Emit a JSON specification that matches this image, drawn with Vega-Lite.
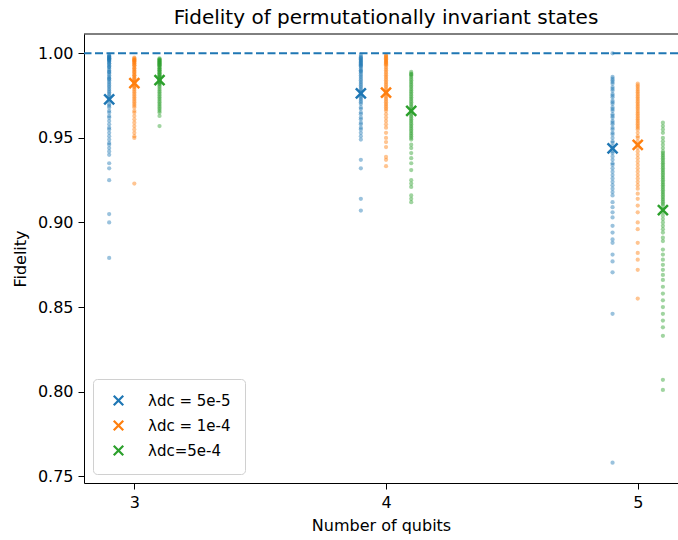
{
  "$schema": "https://vega.github.io/schema/vega-lite/v6.json",
  "width": 594,
  "height": 449,
  "autosize": {"type": "none"},
  "padding": {"left": 84, "top": 34, "right": 0, "bottom": 57},
  "title": {"text": "Fidelity of permutationally invariant states", "fontSize": 20, "font": "DejaVu Sans", "fontWeight": "normal", "color": "#000000", "offset": 6, "anchor": "middle", "dx": 5},
  "datasets": {
    "pts": [
      {"x":2.9,"s":"5e-5","f":0.999},{"x":2.9,"s":"5e-5","f":0.9985},{"x":2.9,"s":"5e-5","f":0.998},{"x":2.9,"s":"5e-5","f":0.998},{"x":2.9,"s":"5e-5","f":0.9975},{"x":2.9,"s":"5e-5","f":0.997},{"x":2.9,"s":"5e-5","f":0.997},{"x":2.9,"s":"5e-5","f":0.9965},{"x":2.9,"s":"5e-5","f":0.996},{"x":2.9,"s":"5e-5","f":0.996},{"x":2.9,"s":"5e-5","f":0.9955},{"x":2.9,"s":"5e-5","f":0.995},{"x":2.9,"s":"5e-5","f":0.994},{"x":2.9,"s":"5e-5","f":0.994},{"x":2.9,"s":"5e-5","f":0.993},{"x":2.9,"s":"5e-5","f":0.992},{"x":2.9,"s":"5e-5","f":0.992},{"x":2.9,"s":"5e-5","f":0.991},{"x":2.9,"s":"5e-5","f":0.990},{"x":2.9,"s":"5e-5","f":0.989},{"x":2.9,"s":"5e-5","f":0.989},{"x":2.9,"s":"5e-5","f":0.988},{"x":2.9,"s":"5e-5","f":0.987},{"x":2.9,"s":"5e-5","f":0.986},{"x":2.9,"s":"5e-5","f":0.985},{"x":2.9,"s":"5e-5","f":0.985},{"x":2.9,"s":"5e-5","f":0.984},{"x":2.9,"s":"5e-5","f":0.983},{"x":2.9,"s":"5e-5","f":0.982},{"x":2.9,"s":"5e-5","f":0.981},{"x":2.9,"s":"5e-5","f":0.980},{"x":2.9,"s":"5e-5","f":0.979},{"x":2.9,"s":"5e-5","f":0.978},{"x":2.9,"s":"5e-5","f":0.977},{"x":2.9,"s":"5e-5","f":0.976},{"x":2.9,"s":"5e-5","f":0.975},{"x":2.9,"s":"5e-5","f":0.974},{"x":2.9,"s":"5e-5","f":0.973},{"x":2.9,"s":"5e-5","f":0.972},{"x":2.9,"s":"5e-5","f":0.970},{"x":2.9,"s":"5e-5","f":0.969},{"x":2.9,"s":"5e-5","f":0.968},{"x":2.9,"s":"5e-5","f":0.966},{"x":2.9,"s":"5e-5","f":0.965},{"x":2.9,"s":"5e-5","f":0.963},{"x":2.9,"s":"5e-5","f":0.962},{"x":2.9,"s":"5e-5","f":0.960},{"x":2.9,"s":"5e-5","f":0.958},{"x":2.9,"s":"5e-5","f":0.956},{"x":2.9,"s":"5e-5","f":0.955},{"x":2.9,"s":"5e-5","f":0.953},{"x":2.9,"s":"5e-5","f":0.951},{"x":2.9,"s":"5e-5","f":0.949},{"x":2.9,"s":"5e-5","f":0.947},{"x":2.9,"s":"5e-5","f":0.946},{"x":2.9,"s":"5e-5","f":0.944},{"x":2.9,"s":"5e-5","f":0.942},{"x":2.9,"s":"5e-5","f":0.940},{"x":2.9,"s":"5e-5","f":0.935},{"x":2.9,"s":"5e-5","f":0.932},{"x":2.9,"s":"5e-5","f":0.925},{"x":2.9,"s":"5e-5","f":0.905},{"x":2.9,"s":"5e-5","f":0.900},{"x":2.9,"s":"5e-5","f":0.879},
      {"x":3.0,"s":"1e-4","f":0.9975},{"x":3.0,"s":"1e-4","f":0.997},{"x":3.0,"s":"1e-4","f":0.9965},{"x":3.0,"s":"1e-4","f":0.996},{"x":3.0,"s":"1e-4","f":0.996},{"x":3.0,"s":"1e-4","f":0.9955},{"x":3.0,"s":"1e-4","f":0.995},{"x":3.0,"s":"1e-4","f":0.995},{"x":3.0,"s":"1e-4","f":0.994},{"x":3.0,"s":"1e-4","f":0.994},{"x":3.0,"s":"1e-4","f":0.993},{"x":3.0,"s":"1e-4","f":0.993},{"x":3.0,"s":"1e-4","f":0.992},{"x":3.0,"s":"1e-4","f":0.991},{"x":3.0,"s":"1e-4","f":0.991},{"x":3.0,"s":"1e-4","f":0.990},{"x":3.0,"s":"1e-4","f":0.989},{"x":3.0,"s":"1e-4","f":0.989},{"x":3.0,"s":"1e-4","f":0.988},{"x":3.0,"s":"1e-4","f":0.987},{"x":3.0,"s":"1e-4","f":0.987},{"x":3.0,"s":"1e-4","f":0.986},{"x":3.0,"s":"1e-4","f":0.985},{"x":3.0,"s":"1e-4","f":0.985},{"x":3.0,"s":"1e-4","f":0.984},{"x":3.0,"s":"1e-4","f":0.983},{"x":3.0,"s":"1e-4","f":0.983},{"x":3.0,"s":"1e-4","f":0.982},{"x":3.0,"s":"1e-4","f":0.981},{"x":3.0,"s":"1e-4","f":0.980},{"x":3.0,"s":"1e-4","f":0.980},{"x":3.0,"s":"1e-4","f":0.979},{"x":3.0,"s":"1e-4","f":0.978},{"x":3.0,"s":"1e-4","f":0.977},{"x":3.0,"s":"1e-4","f":0.976},{"x":3.0,"s":"1e-4","f":0.975},{"x":3.0,"s":"1e-4","f":0.974},{"x":3.0,"s":"1e-4","f":0.973},{"x":3.0,"s":"1e-4","f":0.972},{"x":3.0,"s":"1e-4","f":0.971},{"x":3.0,"s":"1e-4","f":0.970},{"x":3.0,"s":"1e-4","f":0.969},{"x":3.0,"s":"1e-4","f":0.968},{"x":3.0,"s":"1e-4","f":0.966},{"x":3.0,"s":"1e-4","f":0.965},{"x":3.0,"s":"1e-4","f":0.963},{"x":3.0,"s":"1e-4","f":0.961},{"x":3.0,"s":"1e-4","f":0.959},{"x":3.0,"s":"1e-4","f":0.957},{"x":3.0,"s":"1e-4","f":0.955},{"x":3.0,"s":"1e-4","f":0.953},{"x":3.0,"s":"1e-4","f":0.951},{"x":3.0,"s":"1e-4","f":0.950},{"x":3.0,"s":"1e-4","f":0.923},
      {"x":3.1,"s":"5e-4","f":0.997},{"x":3.1,"s":"5e-4","f":0.9965},{"x":3.1,"s":"5e-4","f":0.996},{"x":3.1,"s":"5e-4","f":0.996},{"x":3.1,"s":"5e-4","f":0.9955},{"x":3.1,"s":"5e-4","f":0.995},{"x":3.1,"s":"5e-4","f":0.995},{"x":3.1,"s":"5e-4","f":0.9945},{"x":3.1,"s":"5e-4","f":0.994},{"x":3.1,"s":"5e-4","f":0.994},{"x":3.1,"s":"5e-4","f":0.9935},{"x":3.1,"s":"5e-4","f":0.993},{"x":3.1,"s":"5e-4","f":0.993},{"x":3.1,"s":"5e-4","f":0.992},{"x":3.1,"s":"5e-4","f":0.992},{"x":3.1,"s":"5e-4","f":0.991},{"x":3.1,"s":"5e-4","f":0.991},{"x":3.1,"s":"5e-4","f":0.990},{"x":3.1,"s":"5e-4","f":0.990},{"x":3.1,"s":"5e-4","f":0.989},{"x":3.1,"s":"5e-4","f":0.989},{"x":3.1,"s":"5e-4","f":0.988},{"x":3.1,"s":"5e-4","f":0.988},{"x":3.1,"s":"5e-4","f":0.987},{"x":3.1,"s":"5e-4","f":0.987},{"x":3.1,"s":"5e-4","f":0.986},{"x":3.1,"s":"5e-4","f":0.986},{"x":3.1,"s":"5e-4","f":0.985},{"x":3.1,"s":"5e-4","f":0.985},{"x":3.1,"s":"5e-4","f":0.984},{"x":3.1,"s":"5e-4","f":0.984},{"x":3.1,"s":"5e-4","f":0.983},{"x":3.1,"s":"5e-4","f":0.983},{"x":3.1,"s":"5e-4","f":0.982},{"x":3.1,"s":"5e-4","f":0.982},{"x":3.1,"s":"5e-4","f":0.981},{"x":3.1,"s":"5e-4","f":0.980},{"x":3.1,"s":"5e-4","f":0.979},{"x":3.1,"s":"5e-4","f":0.978},{"x":3.1,"s":"5e-4","f":0.977},{"x":3.1,"s":"5e-4","f":0.976},{"x":3.1,"s":"5e-4","f":0.975},{"x":3.1,"s":"5e-4","f":0.974},{"x":3.1,"s":"5e-4","f":0.973},{"x":3.1,"s":"5e-4","f":0.972},{"x":3.1,"s":"5e-4","f":0.971},{"x":3.1,"s":"5e-4","f":0.970},{"x":3.1,"s":"5e-4","f":0.969},{"x":3.1,"s":"5e-4","f":0.968},{"x":3.1,"s":"5e-4","f":0.967},{"x":3.1,"s":"5e-4","f":0.966},{"x":3.1,"s":"5e-4","f":0.965},{"x":3.1,"s":"5e-4","f":0.963},{"x":3.1,"s":"5e-4","f":0.957},
      {"x":3.9,"s":"5e-5","f":0.999},{"x":3.9,"s":"5e-5","f":0.998},{"x":3.9,"s":"5e-5","f":0.9975},{"x":3.9,"s":"5e-5","f":0.997},{"x":3.9,"s":"5e-5","f":0.9965},{"x":3.9,"s":"5e-5","f":0.996},{"x":3.9,"s":"5e-5","f":0.9955},{"x":3.9,"s":"5e-5","f":0.995},{"x":3.9,"s":"5e-5","f":0.9945},{"x":3.9,"s":"5e-5","f":0.994},{"x":3.9,"s":"5e-5","f":0.9935},{"x":3.9,"s":"5e-5","f":0.993},{"x":3.9,"s":"5e-5","f":0.9925},{"x":3.9,"s":"5e-5","f":0.992},{"x":3.9,"s":"5e-5","f":0.991},{"x":3.9,"s":"5e-5","f":0.990},{"x":3.9,"s":"5e-5","f":0.9895},{"x":3.9,"s":"5e-5","f":0.989},{"x":3.9,"s":"5e-5","f":0.988},{"x":3.9,"s":"5e-5","f":0.987},{"x":3.9,"s":"5e-5","f":0.986},{"x":3.9,"s":"5e-5","f":0.985},{"x":3.9,"s":"5e-5","f":0.984},{"x":3.9,"s":"5e-5","f":0.983},{"x":3.9,"s":"5e-5","f":0.982},{"x":3.9,"s":"5e-5","f":0.981},{"x":3.9,"s":"5e-5","f":0.980},{"x":3.9,"s":"5e-5","f":0.979},{"x":3.9,"s":"5e-5","f":0.978},{"x":3.9,"s":"5e-5","f":0.977},{"x":3.9,"s":"5e-5","f":0.976},{"x":3.9,"s":"5e-5","f":0.975},{"x":3.9,"s":"5e-5","f":0.974},{"x":3.9,"s":"5e-5","f":0.973},{"x":3.9,"s":"5e-5","f":0.972},{"x":3.9,"s":"5e-5","f":0.971},{"x":3.9,"s":"5e-5","f":0.970},{"x":3.9,"s":"5e-5","f":0.968},{"x":3.9,"s":"5e-5","f":0.967},{"x":3.9,"s":"5e-5","f":0.965},{"x":3.9,"s":"5e-5","f":0.964},{"x":3.9,"s":"5e-5","f":0.962},{"x":3.9,"s":"5e-5","f":0.961},{"x":3.9,"s":"5e-5","f":0.959},{"x":3.9,"s":"5e-5","f":0.958},{"x":3.9,"s":"5e-5","f":0.956},{"x":3.9,"s":"5e-5","f":0.955},{"x":3.9,"s":"5e-5","f":0.953},{"x":3.9,"s":"5e-5","f":0.951},{"x":3.9,"s":"5e-5","f":0.949},{"x":3.9,"s":"5e-5","f":0.937},{"x":3.9,"s":"5e-5","f":0.932},{"x":3.9,"s":"5e-5","f":0.914},{"x":3.9,"s":"5e-5","f":0.907},
      {"x":4.0,"s":"1e-4","f":0.999},{"x":4.0,"s":"1e-4","f":0.9985},{"x":4.0,"s":"1e-4","f":0.998},{"x":4.0,"s":"1e-4","f":0.9975},{"x":4.0,"s":"1e-4","f":0.997},{"x":4.0,"s":"1e-4","f":0.9965},{"x":4.0,"s":"1e-4","f":0.996},{"x":4.0,"s":"1e-4","f":0.9955},{"x":4.0,"s":"1e-4","f":0.995},{"x":4.0,"s":"1e-4","f":0.9945},{"x":4.0,"s":"1e-4","f":0.994},{"x":4.0,"s":"1e-4","f":0.9935},{"x":4.0,"s":"1e-4","f":0.993},{"x":4.0,"s":"1e-4","f":0.992},{"x":4.0,"s":"1e-4","f":0.991},{"x":4.0,"s":"1e-4","f":0.990},{"x":4.0,"s":"1e-4","f":0.989},{"x":4.0,"s":"1e-4","f":0.988},{"x":4.0,"s":"1e-4","f":0.987},{"x":4.0,"s":"1e-4","f":0.986},{"x":4.0,"s":"1e-4","f":0.985},{"x":4.0,"s":"1e-4","f":0.984},{"x":4.0,"s":"1e-4","f":0.983},{"x":4.0,"s":"1e-4","f":0.982},{"x":4.0,"s":"1e-4","f":0.981},{"x":4.0,"s":"1e-4","f":0.980},{"x":4.0,"s":"1e-4","f":0.979},{"x":4.0,"s":"1e-4","f":0.978},{"x":4.0,"s":"1e-4","f":0.977},{"x":4.0,"s":"1e-4","f":0.976},{"x":4.0,"s":"1e-4","f":0.975},{"x":4.0,"s":"1e-4","f":0.974},{"x":4.0,"s":"1e-4","f":0.973},{"x":4.0,"s":"1e-4","f":0.972},{"x":4.0,"s":"1e-4","f":0.971},{"x":4.0,"s":"1e-4","f":0.970},{"x":4.0,"s":"1e-4","f":0.969},{"x":4.0,"s":"1e-4","f":0.968},{"x":4.0,"s":"1e-4","f":0.967},{"x":4.0,"s":"1e-4","f":0.966},{"x":4.0,"s":"1e-4","f":0.964},{"x":4.0,"s":"1e-4","f":0.962},{"x":4.0,"s":"1e-4","f":0.960},{"x":4.0,"s":"1e-4","f":0.958},{"x":4.0,"s":"1e-4","f":0.956},{"x":4.0,"s":"1e-4","f":0.953},{"x":4.0,"s":"1e-4","f":0.950},{"x":4.0,"s":"1e-4","f":0.9475},{"x":4.0,"s":"1e-4","f":0.9446},{"x":4.0,"s":"1e-4","f":0.9387},{"x":4.0,"s":"1e-4","f":0.937},{"x":4.0,"s":"1e-4","f":0.9333},
      {"x":4.1,"s":"5e-4","f":0.989},{"x":4.1,"s":"5e-4","f":0.988},{"x":4.1,"s":"5e-4","f":0.9875},{"x":4.1,"s":"5e-4","f":0.987},{"x":4.1,"s":"5e-4","f":0.986},{"x":4.1,"s":"5e-4","f":0.985},{"x":4.1,"s":"5e-4","f":0.984},{"x":4.1,"s":"5e-4","f":0.983},{"x":4.1,"s":"5e-4","f":0.982},{"x":4.1,"s":"5e-4","f":0.981},{"x":4.1,"s":"5e-4","f":0.980},{"x":4.1,"s":"5e-4","f":0.979},{"x":4.1,"s":"5e-4","f":0.978},{"x":4.1,"s":"5e-4","f":0.977},{"x":4.1,"s":"5e-4","f":0.976},{"x":4.1,"s":"5e-4","f":0.975},{"x":4.1,"s":"5e-4","f":0.974},{"x":4.1,"s":"5e-4","f":0.973},{"x":4.1,"s":"5e-4","f":0.972},{"x":4.1,"s":"5e-4","f":0.971},{"x":4.1,"s":"5e-4","f":0.970},{"x":4.1,"s":"5e-4","f":0.969},{"x":4.1,"s":"5e-4","f":0.968},{"x":4.1,"s":"5e-4","f":0.967},{"x":4.1,"s":"5e-4","f":0.966},{"x":4.1,"s":"5e-4","f":0.965},{"x":4.1,"s":"5e-4","f":0.964},{"x":4.1,"s":"5e-4","f":0.963},{"x":4.1,"s":"5e-4","f":0.962},{"x":4.1,"s":"5e-4","f":0.961},{"x":4.1,"s":"5e-4","f":0.960},{"x":4.1,"s":"5e-4","f":0.959},{"x":4.1,"s":"5e-4","f":0.958},{"x":4.1,"s":"5e-4","f":0.957},{"x":4.1,"s":"5e-4","f":0.956},{"x":4.1,"s":"5e-4","f":0.955},{"x":4.1,"s":"5e-4","f":0.954},{"x":4.1,"s":"5e-4","f":0.953},{"x":4.1,"s":"5e-4","f":0.952},{"x":4.1,"s":"5e-4","f":0.951},{"x":4.1,"s":"5e-4","f":0.950},{"x":4.1,"s":"5e-4","f":0.949},{"x":4.1,"s":"5e-4","f":0.946},{"x":4.1,"s":"5e-4","f":0.944},{"x":4.1,"s":"5e-4","f":0.941},{"x":4.1,"s":"5e-4","f":0.938},{"x":4.1,"s":"5e-4","f":0.935},{"x":4.1,"s":"5e-4","f":0.931},{"x":4.1,"s":"5e-4","f":0.925},{"x":4.1,"s":"5e-4","f":0.923},{"x":4.1,"s":"5e-4","f":0.921},{"x":4.1,"s":"5e-4","f":0.916},{"x":4.1,"s":"5e-4","f":0.914},{"x":4.1,"s":"5e-4","f":0.912},
      {"x":4.9,"s":"5e-5","f":1.0},{"x":4.9,"s":"5e-5","f":0.986},{"x":4.9,"s":"5e-5","f":0.985},{"x":4.9,"s":"5e-5","f":0.984},{"x":4.9,"s":"5e-5","f":0.983},{"x":4.9,"s":"5e-5","f":0.982},{"x":4.9,"s":"5e-5","f":0.980},{"x":4.9,"s":"5e-5","f":0.979},{"x":4.9,"s":"5e-5","f":0.978},{"x":4.9,"s":"5e-5","f":0.976},{"x":4.9,"s":"5e-5","f":0.975},{"x":4.9,"s":"5e-5","f":0.974},{"x":4.9,"s":"5e-5","f":0.972},{"x":4.9,"s":"5e-5","f":0.971},{"x":4.9,"s":"5e-5","f":0.970},{"x":4.9,"s":"5e-5","f":0.968},{"x":4.9,"s":"5e-5","f":0.967},{"x":4.9,"s":"5e-5","f":0.966},{"x":4.9,"s":"5e-5","f":0.964},{"x":4.9,"s":"5e-5","f":0.963},{"x":4.9,"s":"5e-5","f":0.962},{"x":4.9,"s":"5e-5","f":0.960},{"x":4.9,"s":"5e-5","f":0.959},{"x":4.9,"s":"5e-5","f":0.958},{"x":4.9,"s":"5e-5","f":0.956},{"x":4.9,"s":"5e-5","f":0.955},{"x":4.9,"s":"5e-5","f":0.953},{"x":4.9,"s":"5e-5","f":0.952},{"x":4.9,"s":"5e-5","f":0.950},{"x":4.9,"s":"5e-5","f":0.948},{"x":4.9,"s":"5e-5","f":0.947},{"x":4.9,"s":"5e-5","f":0.945},{"x":4.9,"s":"5e-5","f":0.944},{"x":4.9,"s":"5e-5","f":0.942},{"x":4.9,"s":"5e-5","f":0.941},{"x":4.9,"s":"5e-5","f":0.939},{"x":4.9,"s":"5e-5","f":0.937},{"x":4.9,"s":"5e-5","f":0.935},{"x":4.9,"s":"5e-5","f":0.934},{"x":4.9,"s":"5e-5","f":0.932},{"x":4.9,"s":"5e-5","f":0.930},{"x":4.9,"s":"5e-5","f":0.928},{"x":4.9,"s":"5e-5","f":0.926},{"x":4.9,"s":"5e-5","f":0.924},{"x":4.9,"s":"5e-5","f":0.922},{"x":4.9,"s":"5e-5","f":0.920},{"x":4.9,"s":"5e-5","f":0.918},{"x":4.9,"s":"5e-5","f":0.916},{"x":4.9,"s":"5e-5","f":0.912},{"x":4.9,"s":"5e-5","f":0.909},{"x":4.9,"s":"5e-5","f":0.906},{"x":4.9,"s":"5e-5","f":0.903},{"x":4.9,"s":"5e-5","f":0.898},{"x":4.9,"s":"5e-5","f":0.894},{"x":4.9,"s":"5e-5","f":0.890},{"x":4.9,"s":"5e-5","f":0.888},{"x":4.9,"s":"5e-5","f":0.881},{"x":4.9,"s":"5e-5","f":0.877},{"x":4.9,"s":"5e-5","f":0.8705},{"x":4.9,"s":"5e-5","f":0.846},{"x":4.9,"s":"5e-5","f":0.758},
      {"x":5.0,"s":"1e-4","f":0.982},{"x":5.0,"s":"1e-4","f":0.981},{"x":5.0,"s":"1e-4","f":0.980},{"x":5.0,"s":"1e-4","f":0.979},{"x":5.0,"s":"1e-4","f":0.978},{"x":5.0,"s":"1e-4","f":0.977},{"x":5.0,"s":"1e-4","f":0.976},{"x":5.0,"s":"1e-4","f":0.975},{"x":5.0,"s":"1e-4","f":0.974},{"x":5.0,"s":"1e-4","f":0.973},{"x":5.0,"s":"1e-4","f":0.972},{"x":5.0,"s":"1e-4","f":0.971},{"x":5.0,"s":"1e-4","f":0.970},{"x":5.0,"s":"1e-4","f":0.969},{"x":5.0,"s":"1e-4","f":0.968},{"x":5.0,"s":"1e-4","f":0.967},{"x":5.0,"s":"1e-4","f":0.966},{"x":5.0,"s":"1e-4","f":0.965},{"x":5.0,"s":"1e-4","f":0.964},{"x":5.0,"s":"1e-4","f":0.963},{"x":5.0,"s":"1e-4","f":0.962},{"x":5.0,"s":"1e-4","f":0.961},{"x":5.0,"s":"1e-4","f":0.960},{"x":5.0,"s":"1e-4","f":0.959},{"x":5.0,"s":"1e-4","f":0.958},{"x":5.0,"s":"1e-4","f":0.957},{"x":5.0,"s":"1e-4","f":0.956},{"x":5.0,"s":"1e-4","f":0.955},{"x":5.0,"s":"1e-4","f":0.953},{"x":5.0,"s":"1e-4","f":0.951},{"x":5.0,"s":"1e-4","f":0.950},{"x":5.0,"s":"1e-4","f":0.948},{"x":5.0,"s":"1e-4","f":0.946},{"x":5.0,"s":"1e-4","f":0.944},{"x":5.0,"s":"1e-4","f":0.942},{"x":5.0,"s":"1e-4","f":0.940},{"x":5.0,"s":"1e-4","f":0.938},{"x":5.0,"s":"1e-4","f":0.936},{"x":5.0,"s":"1e-4","f":0.934},{"x":5.0,"s":"1e-4","f":0.932},{"x":5.0,"s":"1e-4","f":0.930},{"x":5.0,"s":"1e-4","f":0.928},{"x":5.0,"s":"1e-4","f":0.926},{"x":5.0,"s":"1e-4","f":0.924},{"x":5.0,"s":"1e-4","f":0.922},{"x":5.0,"s":"1e-4","f":0.920},{"x":5.0,"s":"1e-4","f":0.917},{"x":5.0,"s":"1e-4","f":0.914},{"x":5.0,"s":"1e-4","f":0.910},{"x":5.0,"s":"1e-4","f":0.906},{"x":5.0,"s":"1e-4","f":0.900},{"x":5.0,"s":"1e-4","f":0.896},{"x":5.0,"s":"1e-4","f":0.888},{"x":5.0,"s":"1e-4","f":0.882},{"x":5.0,"s":"1e-4","f":0.878},{"x":5.0,"s":"1e-4","f":0.872},{"x":5.0,"s":"1e-4","f":0.855},
      {"x":5.1,"s":"5e-4","f":0.959},{"x":5.1,"s":"5e-4","f":0.957},{"x":5.1,"s":"5e-4","f":0.955},{"x":5.1,"s":"5e-4","f":0.953},{"x":5.1,"s":"5e-4","f":0.950},{"x":5.1,"s":"5e-4","f":0.948},{"x":5.1,"s":"5e-4","f":0.946},{"x":5.1,"s":"5e-4","f":0.944},{"x":5.1,"s":"5e-4","f":0.942},{"x":5.1,"s":"5e-4","f":0.941},{"x":5.1,"s":"5e-4","f":0.940},{"x":5.1,"s":"5e-4","f":0.939},{"x":5.1,"s":"5e-4","f":0.938},{"x":5.1,"s":"5e-4","f":0.937},{"x":5.1,"s":"5e-4","f":0.936},{"x":5.1,"s":"5e-4","f":0.935},{"x":5.1,"s":"5e-4","f":0.934},{"x":5.1,"s":"5e-4","f":0.933},{"x":5.1,"s":"5e-4","f":0.932},{"x":5.1,"s":"5e-4","f":0.931},{"x":5.1,"s":"5e-4","f":0.930},{"x":5.1,"s":"5e-4","f":0.929},{"x":5.1,"s":"5e-4","f":0.928},{"x":5.1,"s":"5e-4","f":0.927},{"x":5.1,"s":"5e-4","f":0.926},{"x":5.1,"s":"5e-4","f":0.925},{"x":5.1,"s":"5e-4","f":0.924},{"x":5.1,"s":"5e-4","f":0.923},{"x":5.1,"s":"5e-4","f":0.922},{"x":5.1,"s":"5e-4","f":0.921},{"x":5.1,"s":"5e-4","f":0.920},{"x":5.1,"s":"5e-4","f":0.919},{"x":5.1,"s":"5e-4","f":0.918},{"x":5.1,"s":"5e-4","f":0.917},{"x":5.1,"s":"5e-4","f":0.916},{"x":5.1,"s":"5e-4","f":0.915},{"x":5.1,"s":"5e-4","f":0.914},{"x":5.1,"s":"5e-4","f":0.913},{"x":5.1,"s":"5e-4","f":0.912},{"x":5.1,"s":"5e-4","f":0.911},{"x":5.1,"s":"5e-4","f":0.910},{"x":5.1,"s":"5e-4","f":0.908},{"x":5.1,"s":"5e-4","f":0.906},{"x":5.1,"s":"5e-4","f":0.904},{"x":5.1,"s":"5e-4","f":0.902},{"x":5.1,"s":"5e-4","f":0.900},{"x":5.1,"s":"5e-4","f":0.898},{"x":5.1,"s":"5e-4","f":0.896},{"x":5.1,"s":"5e-4","f":0.894},{"x":5.1,"s":"5e-4","f":0.891},{"x":5.1,"s":"5e-4","f":0.889},{"x":5.1,"s":"5e-4","f":0.884},{"x":5.1,"s":"5e-4","f":0.881},{"x":5.1,"s":"5e-4","f":0.878},{"x":5.1,"s":"5e-4","f":0.875},{"x":5.1,"s":"5e-4","f":0.872},{"x":5.1,"s":"5e-4","f":0.869},{"x":5.1,"s":"5e-4","f":0.866},{"x":5.1,"s":"5e-4","f":0.862},{"x":5.1,"s":"5e-4","f":0.858},{"x":5.1,"s":"5e-4","f":0.854},{"x":5.1,"s":"5e-4","f":0.850},{"x":5.1,"s":"5e-4","f":0.846},{"x":5.1,"s":"5e-4","f":0.842},{"x":5.1,"s":"5e-4","f":0.838},{"x":5.1,"s":"5e-4","f":0.833},{"x":5.1,"s":"5e-4","f":0.807},{"x":5.1,"s":"5e-4","f":0.801}
    ],
    "means": [
      {"x":2.9,"lam":"5e-5","f":0.9728},{"x":3.0,"lam":"1e-4","f":0.9823},{"x":3.1,"lam":"5e-4","f":0.9842},
      {"x":3.9,"lam":"5e-5","f":0.9763},{"x":4.0,"lam":"1e-4","f":0.9767},{"x":4.1,"lam":"5e-4","f":0.9659},
      {"x":4.9,"lam":"5e-5","f":0.9438},{"x":5.0,"lam":"1e-4","f":0.9458},{"x":5.1,"lam":"5e-4","f":0.9073}
    ]
  },
  "config": {
    "font": "DejaVu Sans",
    "view": {"stroke": null},
    "axis": {
      "domainColor": "#000000", "tickColor": "#000000", "labelColor": "#000000", "titleColor": "#000000",
      "labelFontSize": 16, "titleFontSize": 16, "titleFontWeight": "normal", "labelFont": "DejaVu Sans", "titleFont": "DejaVu Sans",
      "tickSize": 6, "labelPadding": 5, "grid": false, "domainWidth": 1, "tickWidth": 1
    }
  },
  "layer": [
    {
      "data": {"name": "pts"},
      "mark": {"type": "point", "filled": true, "shape": "circle", "size": 18, "opacity": 0.45},
      "encoding": {
        "x": {"field": "x", "type": "quantitative", "scale": {"domain": [2.8, 5.16], "nice": false, "zero": false},
              "axis": {"values": [3, 4, 5], "format": "d", "title": "Number of qubits", "titlePadding": 7}},
        "y": {"field": "f", "type": "quantitative", "scale": {"domain": [0.746, 1.0114], "nice": false, "zero": false},
              "axis": {"values": [0.75, 0.8, 0.85, 0.9, 0.95, 1.0], "format": ".2f", "title": "Fidelity", "titlePadding": 9}},
        "fill": {"field": "s", "type": "nominal", "scale": {"domain": ["5e-5", "1e-4", "5e-4"], "range": ["#1f77b4", "#ff7f0e", "#2ca02c"]}, "legend": null}
      }
    },
    {
      "data": {"values": [{}]},
      "mark": {"type": "rule", "color": "#1f77b4", "strokeDash": [8, 3.5], "strokeWidth": 2},
      "encoding": {"y": {"datum": 1.0, "type": "quantitative"}}
    },
    {
      "data": {"values": [{}]},
      "mark": {"type": "rule", "color": "#000000", "strokeWidth": 1},
      "encoding": {"y": {"datum": 1.0114, "type": "quantitative"}}
    },
    {
      "data": {"name": "means"},
      "mark": {"type": "point", "filled": false, "shape": "M-1,-1L1,1M-1,1L1,-1", "size": 100, "strokeWidth": 2.5, "opacity": 1},
      "encoding": {
        "x": {"field": "x", "type": "quantitative"},
        "y": {"field": "f", "type": "quantitative"},
        "stroke": {"field": "lam", "type": "nominal", "sort": null, "scale": {"range": ["#1f77b4", "#ff7f0e", "#2ca02c"]},
                  "legend": {"title": null, "orient": "bottom-left", "offset": 9, "padding": 14, "strokeColor": "#d0d0d0", "fillColor": "#ffffff", "cornerRadius": 4,
                             "symbolType": "M-1,-1L1,1M-1,1L1,-1", "symbolSize": 90, "symbolStrokeWidth": 2.2, "symbolOffset": 4, "labelOffset": 22,
                             "labelFontSize": 15, "labelFont": "DejaVu Sans", "labelColor": "#000000", "rowPadding": 6,
                             "labelExpr": "datum.label == '5e-4' ? 'λdc=5e-4' : 'λdc = ' + datum.label"}}
      }
    }
  ]
}
